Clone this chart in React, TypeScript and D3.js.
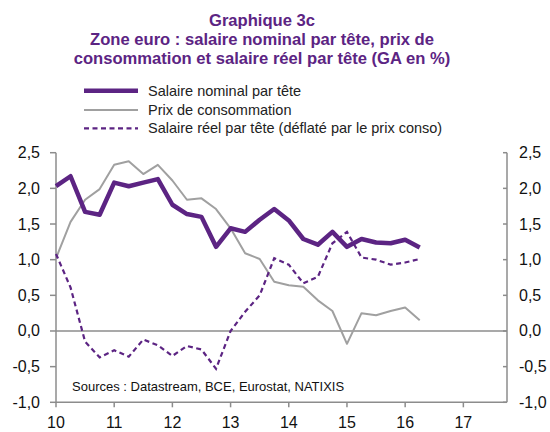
import React from "react";
import * as d3 from "d3";

const quarters = [10, 10.25, 10.5, 10.75, 11, 11.25, 11.5, 11.75, 12, 12.25, 12.5, 12.75, 13, 13.25, 13.5, 13.75, 14, 14.25, 14.5, 14.75, 15, 15.25, 15.5, 15.75, 16, 16.25];
const salaireNominal = [2.03, 2.17, 1.67, 1.63, 2.08, 2.03, 2.08, 2.13, 1.77, 1.64, 1.6, 1.18, 1.44, 1.39, 1.56, 1.71, 1.55, 1.29, 1.21, 1.39, 1.18, 1.29, 1.24, 1.23, 1.28, 1.17];
const prixConso = [1.02, 1.53, 1.84, 1.99, 2.33, 2.38, 2.2, 2.33, 2.11, 1.84, 1.86, 1.71, 1.44, 1.09, 1.01, 0.69, 0.64, 0.62, 0.43, 0.28, -0.18, 0.25, 0.22, 0.28, 0.33, 0.15];
const salaireReel = [1.08, 0.61, -0.15, -0.37, -0.27, -0.36, -0.12, -0.2, -0.35, -0.21, -0.26, -0.53, 0.0, 0.27, 0.5, 1.02, 0.93, 0.67, 0.76, 1.23, 1.39, 1.03, 1.0, 0.93, 0.96, 1.01];
const yTicks = [2.5, 2.0, 1.5, 1.0, 0.5, 0.0, -0.5, -1.0];
const xTicks = [10, 11, 12, 13, 14, 15, 16, 17];
const titleLines = ["Graphique 3c", "Zone euro : salaire nominal par tête, prix de", "consommation et salaire réel par tête (GA en %)"];
const legendLabels = ["Salaire nominal par tête", "Prix de consommation", "Salaire réel par tête (déflaté par le prix conso)"];
const sourceText = "Sources : Datastream, BCE, Eurostat, NATIXIS";

const PURPLE = "#5C2483";
const GRAY = "#A0A0A0";
const AXIS = "#8C8C8C";
const FONT = "Liberation Sans, Arial, sans-serif";

export default function App() {
  const W = 550, H = 432;
  const x = d3.scaleLinear().domain([10, 17.75]).range([56, 507]);
  const y = d3.scaleLinear().domain([-1, 2.5]).range([402.3, 152.7]);
  const fmt = (v: number) => v.toFixed(1).replace(".", ",");
  const line = (vals: number[]) =>
    d3.line<number>().x((_, i) => x(quarters[i])).y((d) => y(d))(vals) || "";

  const legendY = [90.7, 110, 128.3];
  const titleY = [25.5, 45, 64];
  return (
    <svg width={W} height={H} style={{ position: "absolute", left: 0, top: 0, background: "#fff" }} fontFamily={FONT}>
      {titleLines.map((t, i) => (
        <text key={i} x={262} y={titleY[i]} textAnchor="middle" fontWeight="bold" fontSize={16.6} fill={PURPLE}>{t}</text>
      ))}
      {legendLabels.map((t, i) => (
        <g key={i}>
          <line x1={84} x2={138} y1={legendY[i]} y2={legendY[i]}
            stroke={i === 1 ? GRAY : PURPLE}
            strokeWidth={i === 0 ? 4.5 : i === 1 ? 2 : 2.2}
            strokeDasharray={i === 2 ? "5,3.5" : undefined} />
          <text x={148} y={legendY[i] + 5} fontSize={14.5} fill="#222">{t}</text>
        </g>
      ))}
      {/* axes */}
      <line x1={56} x2={56} y1={y(2.5)} y2={y(-1)} stroke={AXIS} strokeWidth={1.5} />
      <line x1={507} x2={507} y1={y(2.5)} y2={y(-1)} stroke={AXIS} strokeWidth={1.5} />
      <line x1={56} x2={507} y1={y(-1)} y2={y(-1)} stroke={AXIS} strokeWidth={1.5} />
      <line x1={56} x2={507} y1={y(0)} y2={y(0)} stroke={AXIS} strokeWidth={1.5} />
      {yTicks.map((v) => (
        <g key={v}>
          <line x1={50} x2={56} y1={y(v)} y2={y(v)} stroke={AXIS} strokeWidth={1.5} />
          <line x1={503} x2={507} y1={y(v)} y2={y(v)} stroke={AXIS} strokeWidth={1.5} />
          <text x={40} y={y(v) + 5.5} textAnchor="end" fontSize={16} fill="#111">{fmt(v)}</text>
          <text x={519} y={y(v) + 5.5} textAnchor="start" fontSize={16} fill="#111">{fmt(v)}</text>
        </g>
      ))}
      {xTicks.map((v) => (
        <g key={v}>
          <line x1={x(v)} x2={x(v)} y1={y(-1)} y2={y(-1) + 5} stroke={AXIS} strokeWidth={1.5} />
          <text x={x(v)} y={428} textAnchor="middle" fontSize={16} fill="#111">{v}</text>
        </g>
      ))}
      <text x={72} y={391} fontSize={13} fill="#111">{sourceText}</text>
      <path d={line(prixConso)} fill="none" stroke={GRAY} strokeWidth={2} strokeLinejoin="round" />
      <path d={line(salaireReel)} fill="none" stroke={PURPLE} strokeWidth={2.2} strokeDasharray="5,3.5" />
      <path d={line(salaireNominal)} fill="none" stroke={PURPLE} strokeWidth={4.5} strokeLinejoin="round" />
    </svg>
  );
}
